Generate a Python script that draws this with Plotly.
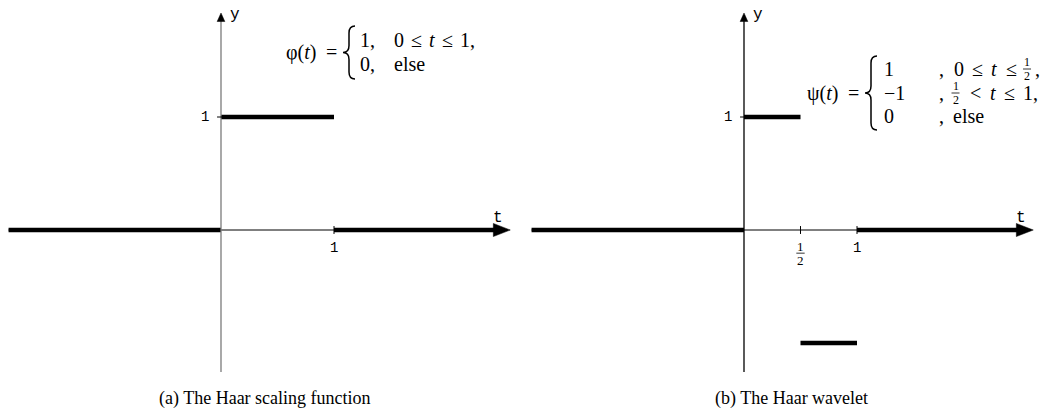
import plotly.graph_objects as go

# Piecewise-constant functions: break points and the level on each interval
phi_breaks = [0, 1]
phi_levels = [0, 1, 0]
psi_breaks = [0, 0.5, 1]
psi_levels = [0, 1, -1, 0]

# Axis extents (data units)
t_start = -1.88
t_end = 2.43
t_tip = 2.56
y_bottom = -1.257
y_top = 1.92

phi_xticks = [1]
phi_xticklabels = ["1"]
psi_xticks = [0.5, 1]
psi_xticklabels = [("1", "2"), "1"]
y_ticks = [1]
y_ticklabels = ["1"]

captions = ["(a) The Haar scaling function", "(b) The Haar wavelet"]

W, H = 1057, 414
SCALE = 113.0          # pixels per unit
ORIGIN_Y = 230.0       # pixel row of y = 0
ORIGINS_X = [221.0, 744.0]

SERIF = "Liberation Serif, Times New Roman, serif"
MONO = "Liberation Mono, DejaVu Sans Mono, monospace"
BLACK = "#000000"


def segments(breaks, levels):
    edges = [t_start] + list(breaks) + [t_end]
    xs, ys = [], []
    for i, lv in enumerate(levels):
        xs += [edges[i], edges[i + 1], None]
        ys += [lv, lv, None]
    return xs, ys


def px(x):
    return x / W


def py(y):
    return 1 - y / H


fig = go.Figure()
shapes = []
annotations = []

panels = [
    dict(breaks=phi_breaks, levels=phi_levels, xticks=phi_xticks,
         xlabels=phi_xticklabels, axis_color="#7a7a7a", xa="x", ya="y"),
    dict(breaks=psi_breaks, levels=psi_levels, xticks=psi_xticks,
         xlabels=psi_xticklabels, axis_color=BLACK, xa="x2", ya="y2"),
]

for k, p in enumerate(panels):
    xa, ya = p["xa"], p["ya"]
    # thin axes
    shapes.append(dict(type="line", xref=xa, yref=ya, x0=t_start, x1=t_end,
                       y0=0, y1=0, line=dict(color=BLACK, width=1)))
    shapes.append(dict(type="line", xref=xa, yref=ya, x0=0, x1=0,
                       y0=y_bottom, y1=y_top - 0.05,
                       line=dict(color=p["axis_color"], width=1.3)))
    # arrowheads
    shapes.append(dict(type="path", xref=xa, yref=ya,
                       path=f"M {t_end-0.02},0.058 L {t_tip},0 L {t_end-0.02},-0.058 Z",
                       fillcolor=BLACK, line=dict(color=BLACK, width=0.5)))
    shapes.append(dict(type="path", xref=xa, yref=ya,
                       path=f"M -0.034,{y_top-0.075} L 0,{y_top} L 0.034,{y_top-0.075} Z",
                       fillcolor=BLACK, line=dict(color=BLACK, width=0.5)))
    # tick marks
    for xt in p["xticks"]:
        shapes.append(dict(type="line", xref=xa, yref=ya, x0=xt, x1=xt,
                           y0=-0.035, y1=0.035, line=dict(color=BLACK, width=1)))
    for yt in y_ticks:
        shapes.append(dict(type="line", xref=xa, yref=ya, x0=-0.035, x1=0.035,
                           y0=yt, y1=yt, line=dict(color=BLACK, width=1)))
    # function graph
    xs, ys = segments(p["breaks"], p["levels"])
    fig.add_trace(go.Scatter(x=xs, y=ys, mode="lines", xaxis=xa, yaxis=ya,
                             line=dict(color=BLACK, width=4.5),
                             hoverinfo="skip", showlegend=False))
    # tick labels
    for xt, lab in zip(p["xticks"], p["xlabels"]):
        if isinstance(lab, tuple):
            annotations.append(dict(xref=xa, yref=ya, x=xt, y=-0.145, text=lab[0],
                                    xanchor="center", showarrow=False,
                                    font=dict(family=SERIF, size=13, color=BLACK)))
            annotations.append(dict(xref=xa, yref=ya, x=xt, y=-0.27, text=lab[1],
                                    xanchor="center", showarrow=False,
                                    font=dict(family=SERIF, size=13, color=BLACK)))
            shapes.append(dict(type="line", xref=xa, yref=ya, x0=xt - 0.037, x1=xt + 0.037,
                               y0=-0.205, y1=-0.205, line=dict(color=BLACK, width=0.8)))
        else:
            annotations.append(dict(xref=xa, yref=ya, x=xt, y=-0.16, text=lab,
                                    xanchor="center", showarrow=False,
                                    font=dict(family=MONO, size=14, color=BLACK)))
    for yt, lab in zip(y_ticks, y_ticklabels):
        annotations.append(dict(xref=xa, yref=ya, x=-0.09, y=yt, text=lab, xanchor="right",
                                showarrow=False, font=dict(family=MONO, size=14, color=BLACK)))
    # axis names
    annotations.append(dict(xref=xa, yref=ya, x=0.06, y=y_top - 0.02, text="y", xanchor="left",
                            showarrow=False, font=dict(family=MONO, size=16, color=BLACK)))
    annotations.append(dict(xref=xa, yref=ya, x=t_tip - 0.17, y=0.11, text="t", xanchor="left",
                            showarrow=False, font=dict(family=MONO, size=16, color=BLACK)))
    # caption
    annotations.append(dict(xref="paper", yref="paper", x=px([265, 791][k]), y=py(398),
                            text=captions[k], xanchor="center", yanchor="middle",
                            showarrow=False, font=dict(family=SERIF, size=18, color=BLACK)))


def brace(x, yt, yb, w=12):
    ym = (yt + yb) / 2
    r = 7
    xm = x + w / 2
    pts = [
        f"M {px(x+w)},{py(yt)}",
        f"Q {px(xm)},{py(yt)} {px(xm)},{py(yt+r)}",
        f"L {px(xm)},{py(ym-r)}",
        f"Q {px(xm)},{py(ym)} {px(x)},{py(ym)}",
        f"Q {px(xm)},{py(ym)} {px(xm)},{py(ym+r)}",
        f"L {px(xm)},{py(yb-r)}",
        f"Q {px(xm)},{py(yb)} {px(x+w)},{py(yb)}",
    ]
    return dict(type="path", xref="paper", yref="paper", path=" ".join(pts),
                line=dict(color=BLACK, width=1.5))


def text_at(x, y, s, size=20, anchor="left"):
    annotations.append(dict(xref="paper", yref="paper", x=px(x), y=py(y), text=s,
                            xanchor=anchor, yanchor="middle", showarrow=False,
                            font=dict(family=SERIF, size=size, color=BLACK)))


def frac(xc, y, num="1", den="2"):
    text_at(xc, y - 7, num, size=12, anchor="center")
    text_at(xc, y + 7, den, size=12, anchor="center")
    shapes.append(dict(type="line", xref="paper", yref="paper", x0=px(xc - 4), x1=px(xc + 4),
                       y0=py(y), y1=py(y), line=dict(color=BLACK, width=0.8)))


# advance widths (em) of the serif glyphs used in the formulas
EM = {"0": .5, "1": .5, ",": .25, "≤": .549, "<": .564, "t": .278, "−": .564,
      "e": .444, "l": .278, "s": .389}
FRAC = "frac"


def row(x, y, tokens, size=20):
    # tokens: (text, gap after in px)
    for tok, gap in tokens:
        if tok == FRAC:
            frac(x + 4, y)
            x += 8 + gap
        else:
            plain = tok.replace("<i>", "").replace("</i>", "")
            text_at(x, y, tok, size)
            x += sum(EM.get(c, .5) for c in plain) * size + gap


T = "<i>t</i>"
G = 8.5

# phi(t) definition
text_at(318, 52, "φ(" + T + ")", anchor="right")
text_at(324, 52, "=")
shapes.append(brace(343, 26, 79))
text_at(358, 40, "1,")
row(392, 40, [("0", 7), ("≤", 7), (T, 7), ("≤", 7), ("1", 0), (",", 0)])
text_at(358, 64, "0,")
text_at(392, 64, "else")

# psi(t) definition
text_at(840, 93, "ψ(" + T + ")", anchor="right")
text_at(846, 93, "=")
shapes.append(brace(865, 56, 130))
text_at(882, 69, "1")
row(937, 69, [(",", G + 1), ("0", G), ("≤", G), (T, G), ("≤", G), (FRAC, 2), (",", 0)])
text_at(882, 93, "−1")
row(937, 93, [(",", G + 1), (FRAC, G), ("<", G), (T, G), ("≤", G), ("1", 0), (",", 0)])
text_at(882, 116, "0")
row(937, 116, [(",", G), ("else", 0)])

fig.update_layout(
    width=W, height=H,
    margin=dict(l=0, r=0, t=0, b=0),
    paper_bgcolor="white", plot_bgcolor="white",
    shapes=shapes, annotations=annotations,
    xaxis=dict(domain=[0, 0.5], range=[-ORIGINS_X[0] / SCALE, (W / 2 - ORIGINS_X[0]) / SCALE],
               visible=False, fixedrange=True),
    xaxis2=dict(domain=[0.5, 1], range=[(W / 2 - ORIGINS_X[1]) / SCALE, (W - ORIGINS_X[1]) / SCALE],
                visible=False, fixedrange=True),
    yaxis=dict(domain=[0, 1], range=[(ORIGIN_Y - H) / SCALE, ORIGIN_Y / SCALE],
               visible=False, fixedrange=True),
    yaxis2=dict(domain=[0, 1], range=[(ORIGIN_Y - H) / SCALE, ORIGIN_Y / SCALE],
                visible=False, fixedrange=True, anchor="x2"),
    showlegend=False,
)

fig.write_html("out.html")
